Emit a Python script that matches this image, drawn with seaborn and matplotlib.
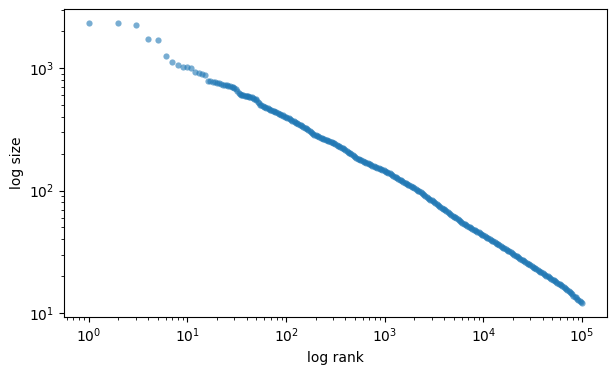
import matplotlib
matplotlib.use("Agg")
import matplotlib.pyplot as plt
import pandas as pd
import seaborn as sns

# ranks 1..40, one by one
head_ranks = list(range(1, 41))
head_sizes = [2317, 2317, 2232, 1714, 1682, 1246, 1113, 1052, 1013, 1013,
              994, 923, 905, 893, 872, 783, 779, 774, 767, 759,
              752, 743, 734, 726, 721, 717, 712, 705, 698, 692,
              674, 652, 630, 609, 606, 602, 598, 595, 592, 589]

# further down the dots merge into one band, read at these ranks
tail_ranks = [41, 43, 46, 49, 52, 55, 58, 61, 65, 69, 73, 77, 82, 87, 92, 97,
              103, 109, 116, 122, 130, 137, 145, 154, 163, 173, 183, 194, 205,
              218, 231, 244, 259, 274, 290, 307, 326, 345, 365, 387, 410, 434,
              460, 487, 516, 547, 579, 613, 650, 688, 729, 772, 818, 867, 918,
              972, 1030, 1091, 1156, 1224, 1297, 1373, 1455, 1541, 1632, 1729,
              1831, 1940, 2055, 2177, 2306, 2442, 2587, 2740, 2902, 3074, 3256,
              3449, 3653, 3870, 4099, 4342, 4599, 4872, 5160, 5466, 5790, 6133,
              6497, 6882, 7289, 7721, 8179, 8663, 9177, 9720, 10296, 10906,
              11553, 12237, 12962, 13731, 14544, 15406, 16319, 17286, 18310,
              19395, 20544, 21761, 23051, 24417, 25863, 27396, 29019, 30739,
              32560, 34490, 36533, 38698, 40991, 43420, 45993, 48718, 51605,
              54663, 57902, 61333, 64968, 68818, 72896, 77215, 81791, 86638,
              91771, 97210, 100000]
tail_sizes = [586, 581, 570, 554, 529, 503, 492, 482, 469, 458, 448, 439, 428,
              419, 410, 402, 393, 383, 372, 364, 353, 345, 336, 327, 318, 306,
              295, 286, 280, 273, 267, 263, 258, 253, 248, 243, 236, 230, 224,
              218, 212, 204, 197, 190, 184, 180, 176, 172, 169, 165, 162, 159,
              155, 152, 149, 146, 143, 140, 136, 132, 128, 125, 121, 118, 115,
              112, 109, 106, 103, 99.8, 96.9, 93.7, 90.5, 87.4, 84.5, 81.6,
              78.9, 76.2, 73.7, 71.3, 69, 66.7, 64.5, 62.4, 60.3, 58.3, 56.4,
              54.5, 53, 51.5, 50.1, 48.7, 47.4, 46.1, 44.9, 43.6, 42.4, 41.3,
              40.2, 39.1, 38, 36.9, 35.8, 34.8, 33.7, 32.7, 31.8, 30.8, 29.9,
              29, 28.2, 27.3, 26.5, 25.7, 25, 24.2, 23.5, 22.8, 22.1, 21.5,
              20.8, 20.2, 19.6, 19, 18.5, 17.9, 17.4, 16.9, 16.3, 15.7, 15.1,
              14.5, 13.9, 13.4, 12.8, 12.3, 12.1]

# more readings in between, so the band comes out solid as in the picture
mid_ranks = [42, 45, 47, 50, 53, 56, 60, 63, 67, 71, 75, 79, 84, 89, 94, 100,
             106, 112, 119, 126, 133, 141, 150, 159, 168, 178, 188, 200, 211,
             224, 237, 251, 266, 282, 299, 316, 335, 355, 376, 398, 422, 447,
             473, 502, 531, 563, 596, 631, 669, 708, 750, 795, 842, 892, 945,
             1001, 1060, 1123, 1189, 1260, 1334, 1413, 1497, 1586, 1680, 1779,
             1885, 1997, 2115, 2241, 2374, 2514, 2663, 2821, 2988, 3165, 3353,
             3551, 3762, 3985, 4221, 4471, 4736, 5017, 5314, 5629, 5962, 6316,
             6690, 7087, 7507, 7951, 8423, 8922, 9450, 10010, 10603, 11231,
             11897, 12602, 13349, 14140, 14978, 15865, 16806, 17802, 18857,
             19974, 21158, 22412, 23740, 25147, 26637, 28216, 29888, 31659,
             33535, 35523, 37628, 39858, 42220, 44722, 47373, 50180, 53154,
             56304, 59641, 63175, 66919, 70885, 75085, 79535, 84248, 89241,
             94529]
mid_sizes = [584, 575, 564, 549, 518, 499, 485, 475, 464, 453, 443, 434, 424,
             415, 407, 398, 388, 378, 368, 359, 350, 340, 331, 322, 312, 300,
             290, 283, 277, 270, 265, 260, 255, 251, 246, 240, 233, 227, 221,
             215, 208, 201, 194, 187, 182, 178, 174, 171, 167, 164, 160, 157,
             154, 151, 148, 145, 142, 138, 134, 130, 127, 123, 120, 116, 113,
             110, 107, 104, 101, 98.3, 95.3, 92.1, 88.9, 85.9, 83.0, 80.2,
             77.5, 74.9, 72.5, 70.1, 67.8, 65.6, 63.4, 61.3, 59.3, 57.3, 55.4,
             53.7, 52.2, 50.8, 49.4, 48.0, 46.7, 45.5, 44.2, 43.0, 41.8, 40.7,
             39.6, 38.5, 37.4, 36.3, 35.3, 34.2, 33.2, 32.2, 31.3, 30.3, 29.4,
             28.6, 27.7, 26.9, 26.1, 25.3, 24.6, 23.8, 23.1, 22.4, 21.8, 21.1,
             20.5, 19.9, 19.3, 18.7, 18.2, 17.6, 17.1, 16.6, 16.0, 15.4, 14.8,
             14.2, 13.6, 13.1, 12.5]

df = pd.DataFrame({"rank": head_ranks + tail_ranks + mid_ranks,
                   "size": head_sizes + tail_sizes + mid_sizes})
df = df.sort_values("rank")

fig = plt.figure(figsize=(6.16, 3.75), dpi=100)
ax = fig.add_axes([0.104, 0.155, 0.881, 0.82])

sns.scatterplot(data=df, x="rank", y="size", ax=ax, color="#1f77b4",
                alpha=0.6, s=20, linewidth=0)
ax.set_xscale("log")
ax.set_yscale("log")
ax.set_xlabel("log rank")
ax.set_ylabel("log size")

plt.savefig("out.png", dpi=100)
